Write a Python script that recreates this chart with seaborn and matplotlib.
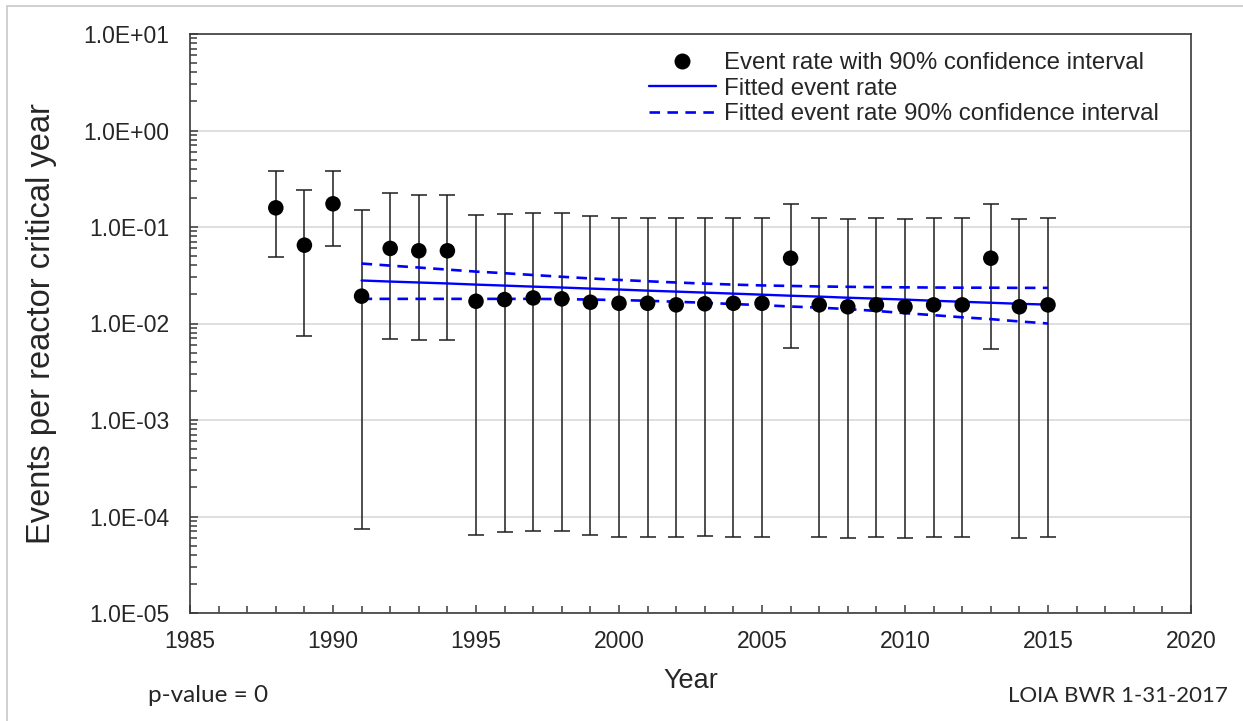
import numpy as np
import pandas as pd
import seaborn as sns
import matplotlib.pyplot as plt
from matplotlib.ticker import LogLocator, FuncFormatter, MultipleLocator, NullFormatter
from matplotlib.lines import Line2D
from matplotlib.patches import Rectangle

# yearly event rates with 90% interval
years = list(range(1988, 2016))
rate = [0.158, 0.0648, 0.174, 0.0192, 0.060, 0.0567, 0.0567, 0.0170, 0.0177, 0.0184,
        0.0180, 0.0166, 0.0162, 0.0162, 0.0156, 0.0160, 0.0162, 0.0162, 0.0475, 0.0156,
        0.0149, 0.0156, 0.0149, 0.0156, 0.0156, 0.0475, 0.0149, 0.0156]
rate_hi = [0.385, 0.244, 0.385, 0.151, 0.227, 0.213, 0.213, 0.133, 0.136, 0.139,
           0.139, 0.131, 0.124, 0.124, 0.124, 0.124, 0.124, 0.124, 0.175, 0.124,
           0.122, 0.124, 0.122, 0.124, 0.124, 0.175, 0.122, 0.124]
rate_lo = [0.0485, 0.0075, 0.0632, 7.4e-5, 0.0069, 0.0067, 0.0067, 6.5e-5, 6.9e-5, 7.1e-5,
           7.1e-5, 6.5e-5, 6.1e-5, 6.1e-5, 6.1e-5, 6.3e-5, 6.1e-5, 6.1e-5, 0.0056, 6.1e-5,
           6.0e-5, 6.1e-5, 6.0e-5, 6.1e-5, 6.1e-5, 0.0054, 6.0e-5, 6.1e-5]

# fitted trend and its 90% band
fit_years = list(range(1991, 2016))
fit_rate = [0.0279, 0.0272, 0.0266, 0.0260, 0.0253, 0.0247, 0.0241, 0.0236, 0.0230, 0.0225,
            0.0219, 0.0214, 0.0209, 0.0204, 0.0199, 0.0194, 0.0190, 0.0185, 0.0181, 0.0177,
            0.0172, 0.0168, 0.0164, 0.0160, 0.0157]
fit_hi = [0.0418, 0.0398, 0.0380, 0.0362, 0.0345, 0.0332, 0.0318, 0.0305, 0.0293, 0.0283,
          0.0274, 0.0266, 0.0259, 0.0253, 0.0248, 0.0245, 0.0242, 0.0240, 0.0238, 0.0237,
          0.0236, 0.0235, 0.0235, 0.0234, 0.0234]
fit_lo = [0.0180, 0.0180, 0.0180, 0.0180, 0.0180, 0.0180, 0.0180, 0.0179, 0.0177, 0.0175,
          0.0172, 0.0168, 0.0164, 0.0159, 0.0155, 0.0150, 0.0146, 0.0141, 0.0135, 0.0128,
          0.0122, 0.0116, 0.0111, 0.0105, 0.0100]

pts = pd.DataFrame({'year': years, 'rate': rate, 'lo': rate_lo, 'hi': rate_hi})
fit = pd.DataFrame({'year': fit_years, 'fit': fit_rate, 'lo': fit_lo, 'hi': fit_hi})

sns.set_style('white')
plt.rcParams['font.family'] = ['Liberation Sans', 'DejaVu Sans']

fig = plt.figure(figsize=(12.43, 7.21), dpi=100)
ax = fig.add_axes([190 / 1243, 1 - 613 / 721, 1001 / 1243, 579 / 721])

# error bars
ax.errorbar(pts['year'], pts['rate'],
            yerr=[pts['rate'] - pts['lo'], pts['hi'] - pts['rate']],
            fmt='none', ecolor='#1e1e1e', elinewidth=1.1, capsize=6, capthick=1.1, zorder=2)

blue = '#0000ff'
sns.lineplot(data=fit, x='year', y='fit', color=blue, lw=1.7, ax=ax, zorder=3)
sns.lineplot(data=fit, x='year', y='hi', color=blue, lw=1.9, ax=ax, zorder=3)
ax.lines[-1].set_dashes((4, 2.8))
sns.lineplot(data=fit, x='year', y='lo', color=blue, lw=1.9, ax=ax, zorder=3)
ax.lines[-1].set_dashes((4, 2.8))
sns.scatterplot(data=pts, x='year', y='rate', color='black', s=125, edgecolor='none',
                ax=ax, zorder=4, legend=False)

ax.set_yscale('log')
ax.set_ylim(1e-5, 10)
ax.set_xlim(1985, 2020)
ax.xaxis.set_major_locator(MultipleLocator(5))
ax.xaxis.set_minor_locator(MultipleLocator(1))
ax.yaxis.set_major_locator(LogLocator(base=10, numticks=20))
ax.yaxis.set_minor_locator(LogLocator(base=10, subs=np.arange(2, 10), numticks=20))
ax.yaxis.set_major_formatter(FuncFormatter(lambda v, p: f'{v:.1E}'))
ax.yaxis.set_minor_formatter(NullFormatter())

ax.grid(axis='y', which='major', color='#d9d9d9', lw=1.2)
ax.grid(axis='x', visible=False)
ax.set_axisbelow(True)
for s in ax.spines.values():
    s.set_color('#3a3a3a')
    s.set_linewidth(1.2)

ax.tick_params(axis='both', which='both', direction='in', color='#3a3a3a', width=1.1,
               bottom=True, left=True, top=False, right=False)
ax.tick_params(axis='both', which='major', length=6, labelsize=16.5)
ax.tick_params(axis='both', which='minor', length=5)
ax.tick_params(axis='x', which='major', pad=12)
ax.tick_params(axis='y', which='major', pad=15)

ax.set_xlabel('Year', fontsize=19.5, labelpad=11)
ax.set_ylabel('Events per reactor critical year', fontsize=23.5, labelpad=19)

handles = [
    Line2D([], [], marker='o', ls='none', color='black', markersize=10.5),
    Line2D([], [], color=blue, lw=1.7),
    Line2D([], [], color=blue, lw=1.9, dashes=(4, 2.8)),
]
labels = ['Event rate with 90% confidence interval', 'Fitted event rate',
          'Fitted event rate 90% confidence interval']
ax.legend(handles, labels, loc='upper right', bbox_to_anchor=(0.978, 0.985),
          borderaxespad=0, frameon=False, fontsize=17.3, handlelength=2.8,
          handletextpad=0.35, labelspacing=0.14)

fig.text(148 / 1243, 1 - 696 / 721, 'p-value = 0', ha='left', va='center',
         fontsize=17.5, family=['Lato', 'DejaVu Sans'])
fig.text(1228 / 1243, 1 - 696 / 721, 'LOIA BWR 1-31-2017', ha='right', va='center',
         fontsize=16, family=['Lato', 'DejaVu Sans'])

fig.patches.append(Rectangle((7 / 1243, -0.05), 1.1, 1 - 6 / 721 + 0.05,
                             transform=fig.transFigure, fill=False,
                             edgecolor='#c8c8c8', lw=1.2))

fig.savefig('out.png', dpi=100)
